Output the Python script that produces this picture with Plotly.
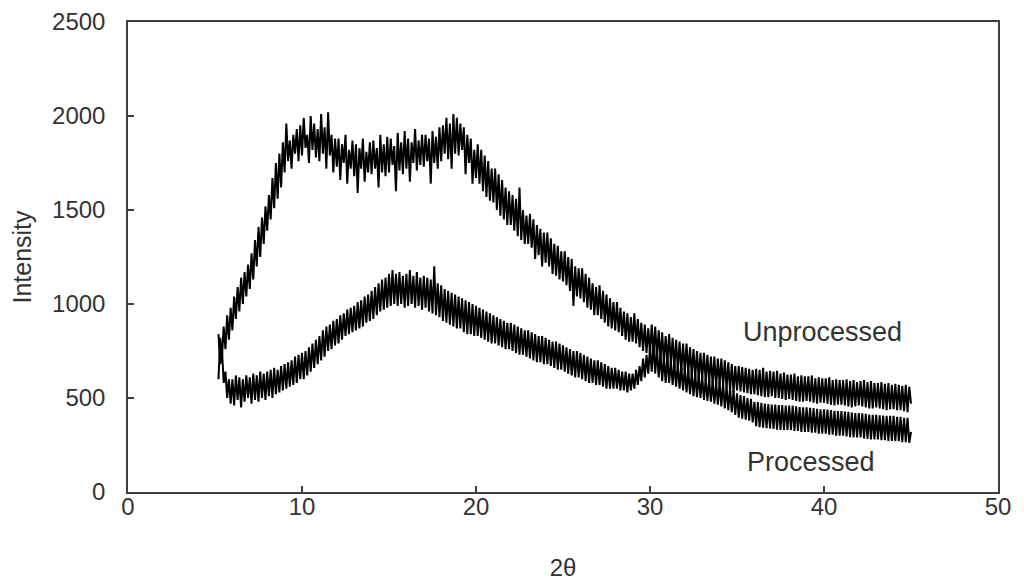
import numpy as np
import plotly.graph_objects as go

# 2-theta sampling of both scans (degrees)
two_theta_start = 5.2
two_theta_step = 0.1

# Unprocessed scan intensities (5.2 .. 45.0)
unprocessed = [
    600, 820, 720, 880, 760, 940, 810, 980,
    860, 1040, 920, 1090, 960, 1140, 1000, 1170, 1040, 1210,
    1080, 1270, 1130, 1340, 1200, 1410, 1250, 1460, 1320, 1520,
    1390, 1580, 1450, 1670, 1510, 1750, 1560, 1800, 1620, 1860,
    1700, 1960, 1760, 1870, 1720, 1900, 1800, 1930, 1760, 1950,
    1790, 1990, 1830, 1900, 1750, 2000, 1820, 1960, 1780, 1930,
    1760, 2010, 1800, 1940, 1720, 2020, 1790, 1900, 1700, 1880,
    1730, 1880, 1660, 1850, 1750, 1900, 1640, 1820, 1720, 1870,
    1680, 1850, 1590, 1830, 1720, 1880, 1650, 1810, 1700, 1860,
    1690, 1870, 1720, 1830, 1620, 1900, 1700, 1850, 1680, 1890,
    1700, 1880, 1740, 1840, 1600, 1910, 1710, 1860, 1690, 1920,
    1720, 1880, 1650, 1860, 1750, 1930, 1710, 1870, 1740, 1900,
    1730, 1900, 1760, 1880, 1640, 1920, 1750, 1890, 1720, 1940,
    1760, 1950, 1800, 1990, 1770, 1960, 1720, 2010, 1800, 1990,
    1790, 1960, 1820, 1940, 1690, 1900, 1750, 1880, 1640, 1820,
    1670, 1850, 1640, 1820, 1600, 1790, 1570, 1760, 1550, 1720,
    1540, 1720, 1500, 1690, 1470, 1660, 1450, 1620, 1420, 1600,
    1420, 1580, 1390, 1560, 1360, 1620, 1340, 1500, 1320, 1470,
    1320, 1480, 1300, 1450, 1240, 1420, 1260, 1400, 1200, 1380,
    1220, 1380, 1200, 1350, 1160, 1320, 1150, 1310, 1130, 1280,
    1120, 1280, 1100, 1250, 1070, 1240, 990, 1200, 1040, 1190,
    1030, 1190, 1010, 1160, 980, 1140, 970, 1110, 940, 1090,
    940, 1100, 920, 1070, 900, 1050, 880, 1030, 870, 1010,
    860, 1010, 850, 980, 830, 960, 810, 950, 800, 930,
    800, 950, 790, 920, 770, 900, 750, 890, 740, 870,
    740, 890, 730, 880, 720, 860, 700, 850, 690, 830,
    690, 840, 680, 820, 660, 810, 650, 800, 640, 790,
    640, 790, 630, 770, 620, 760, 610, 750, 600, 740,
    600, 740, 590, 730, 580, 720, 570, 720, 560, 710,
    570, 710, 560, 700, 550, 690, 540, 680, 530, 670,
    540, 670, 535, 665, 530, 660, 525, 655, 520, 650,
    520, 655, 515, 650, 510, 660, 505, 640, 505, 645,
    510, 640, 500, 645, 500, 630, 495, 635, 490, 625,
    495, 625, 490, 630, 485, 615, 480, 620, 480, 615,
    485, 615, 480, 620, 475, 605, 470, 610, 475, 605,
    475, 605, 470, 610, 465, 595, 460, 600, 465, 595,
    465, 595, 460, 600, 455, 590, 450, 595, 455, 585,
    460, 590, 455, 595, 450, 585, 445, 590, 445, 580,
    450, 580, 445, 585, 440, 575, 435, 580, 440, 570,
    440, 575, 435, 570, 435, 565, 430, 570, 425, 560,
    470,
]

# Processed scan intensities (5.2 .. 45.0)
processed = [
    840, 680, 760, 580, 640, 500, 600, 470,
    600, 460, 620, 490, 610, 450, 600, 480, 620, 500,
    610, 470, 630, 490, 620, 480, 640, 500, 630, 490,
    640, 510, 650, 500, 660, 520, 650, 530, 670, 540,
    680, 550, 690, 560, 700, 570, 720, 580, 730, 600,
    740, 600, 750, 620, 770, 640, 790, 660, 810, 680,
    830, 700, 860, 720, 880, 750, 890, 760, 910, 780,
    920, 790, 940, 810, 950, 830, 970, 840, 980, 850,
    990, 860, 1010, 870, 1020, 880, 1040, 900, 1050, 910,
    1070, 920, 1090, 940, 1110, 960, 1130, 970, 1140, 980,
    1160, 990, 1180, 1000, 1160, 990, 1170, 1000, 1150, 980,
    1160, 990, 1180, 1000, 1150, 980, 1170, 990, 1140, 970,
    1150, 980, 1140, 960, 1130, 950, 1200, 940, 1110, 930,
    1100, 910, 1080, 900, 1070, 890, 1060, 880, 1050, 870,
    1040, 870, 1030, 850, 1020, 840, 1010, 840, 1000, 830,
    990, 830, 980, 820, 970, 810, 960, 800, 950, 790,
    940, 790, 930, 780, 920, 770, 910, 760, 900, 760,
    900, 750, 890, 740, 880, 730, 870, 730, 860, 720,
    860, 710, 850, 700, 840, 690, 830, 690, 830, 680,
    820, 680, 810, 670, 800, 660, 800, 650, 790, 650,
    780, 640, 770, 630, 760, 620, 750, 610, 750, 610,
    740, 600, 730, 590, 720, 580, 710, 580, 700, 570,
    700, 570, 690, 560, 680, 550, 670, 550, 660, 550,
    660, 550, 650, 540, 640, 540, 640, 530, 630, 540,
    630, 550, 650, 570, 670, 590, 710, 610, 730, 630,
    770, 640, 790, 630, 760, 610, 740, 590, 720, 580,
    720, 580, 700, 570, 690, 560, 680, 550, 670, 540,
    660, 530, 650, 520, 640, 510, 630, 505, 625, 500,
    615, 490, 605, 485, 600, 480, 590, 470, 585, 465,
    585, 455, 575, 445, 565, 435, 555, 425, 540, 410,
    525, 395, 515, 390, 510, 385, 500, 380, 495, 370,
    480, 350, 478, 345, 475, 342, 470, 340, 468, 338,
    465, 335, 465, 332, 462, 330, 462, 330, 460, 330,
    460, 330, 458, 325, 456, 325, 452, 320, 450, 320,
    450, 320, 448, 315, 446, 315, 442, 310, 440, 310,
    440, 310, 438, 305, 436, 305, 432, 300, 430, 300,
    430, 300, 428, 295, 426, 292, 422, 290, 420, 290,
    420, 290, 418, 285, 416, 282, 412, 280, 410, 280,
    410, 280, 408, 275, 406, 275, 405, 272, 405, 272,
    405, 270, 400, 270, 400, 265, 395, 265, 395, 262,
    320,
]

x_ticks = [0, 10, 20, 30, 40, 50]
y_ticks = [0, 500, 1000, 1500, 2000, 2500]
series_labels = ["Unprocessed", "Processed"]
label_positions = [(39.9, 851), (39.25, 160)]

x_unp = two_theta_start + two_theta_step * np.arange(len(unprocessed))
x_pro = two_theta_start + two_theta_step * np.arange(len(processed))

font_family = "Liberation Sans, Arial, sans-serif"
text_color = "#333333"
axis_color = "#404040"

fig = go.Figure()
fig.add_trace(go.Scatter(x=x_unp, y=unprocessed, mode="lines",
                         line=dict(color="black", width=2), name=series_labels[0]))
fig.add_trace(go.Scatter(x=x_pro, y=processed, mode="lines",
                         line=dict(color="black", width=2), name=series_labels[1]))

for label, (lx, ly) in zip(series_labels, label_positions):
    fig.add_annotation(x=lx, y=ly, text=label, showarrow=False,
                       font=dict(family=font_family, size=27, color=text_color))

fig.update_layout(
    width=1016, height=579,
    margin=dict(l=120, r=26, t=14, b=95, autoexpand=False),
    paper_bgcolor="white", plot_bgcolor="white",
    showlegend=False,
    font=dict(family=font_family, size=24, color=text_color),
)
fig.update_xaxes(
    range=[0, 50], tickvals=x_ticks, ticks="inside", ticklen=6, tickwidth=1.5,
    tickcolor=axis_color, showline=True, linecolor=axis_color, linewidth=1.5,
    mirror=True, showgrid=False, zeroline=False, automargin=False,
    tickfont=dict(family=font_family, size=24, color=text_color),
    ticklabelstandoff=-8,
    title=dict(text="2θ", font=dict(family=font_family, size=24, color=text_color), standoff=41),
)
fig.update_yaxes(
    range=[0, 2500], tickvals=y_ticks, ticks="inside", ticklen=6, tickwidth=1.5,
    tickcolor=axis_color, showline=True, linecolor=axis_color, linewidth=1.5,
    mirror=True, showgrid=False, zeroline=False, automargin=False,
    tickfont=dict(family=font_family, size=24, color=text_color),
    ticklabelstandoff=16,
    title=dict(text="Intensity", font=dict(family=font_family, size=25, color=text_color), standoff=14),
)

fig.write_html("out.html")
